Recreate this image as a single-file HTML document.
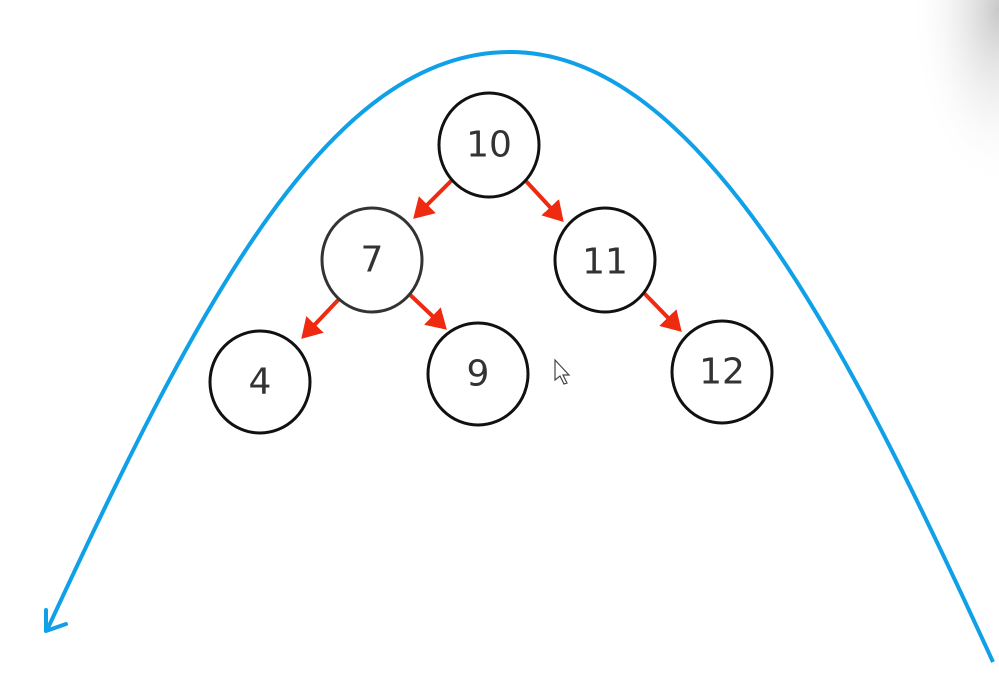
<!DOCTYPE html>
<html><head><style>
body{margin:0;width:999px;height:686px;overflow:hidden;background:#fff;}
svg{display:block}
text{font-family:"DejaVu Sans","Liberation Sans",sans-serif;font-size:36px;fill:#333;text-anchor:middle;dominant-baseline:central}
</style></head><body>
<svg width="999" height="686" viewBox="0 0 999 686">
<defs>
<radialGradient id="g" cx="1" cy="0.05" r="0.9">
<stop offset="0" stop-color="#c8c8c8"/><stop offset="1" stop-color="#fff" stop-opacity="0"/>
</radialGradient>
<marker id="r" markerWidth="6" markerHeight="6" refX="4" refY="3" orient="auto" markerUnits="strokeWidth">
<path d="M0,0 L5,3 L0,6 z" fill="#ee2a10"/></marker>
</defs>
<rect x="900" y="0" width="99" height="200" fill="url(#g)"/>
<path d="M48,628 C200,300 330,52 510,52 C700,52 850,350 993,662" fill="none" stroke="#10a0e8" stroke-width="4"/>
<path d="M46,610 L46,631 L66,624" fill="none" stroke="#10a0e8" stroke-width="4" stroke-linecap="round" stroke-linejoin="round"/>
<g stroke="#ee2a10" stroke-width="4" marker-end="url(#r)">
<line x1="452" y1="180" x2="416" y2="216"/>
<line x1="525" y1="180" x2="561" y2="219"/>
<line x1="340" y1="298" x2="304" y2="336"/>
<line x1="405" y1="290" x2="444" y2="327"/>
<line x1="643" y1="292" x2="679" y2="329"/>
</g>
<g fill="#fff" stroke="#111" stroke-width="3">
<ellipse cx="489" cy="145" rx="50" ry="52"/>
<ellipse cx="372" cy="260" rx="50" ry="52" stroke="#333"/>
<ellipse cx="605" cy="260" rx="50" ry="52"/>
<ellipse cx="260" cy="382" rx="50" ry="51"/>
<ellipse cx="478" cy="374" rx="50" ry="51"/>
<ellipse cx="722" cy="372" rx="50" ry="51"/>
</g>
<text x="489" y="145">10</text>
<text x="372" y="260">7</text>
<text x="605" y="262">11</text>
<text x="260" y="382">4</text>
<text x="478" y="374">9</text>
<text x="722" y="372">12</text>
<path d="M555,360 L555,380 L560,376 L564,384 L567,383 L563,375 L569,375 Z" fill="#fff" stroke="#444" stroke-width="1.2"/>
</svg>
</body></html>
